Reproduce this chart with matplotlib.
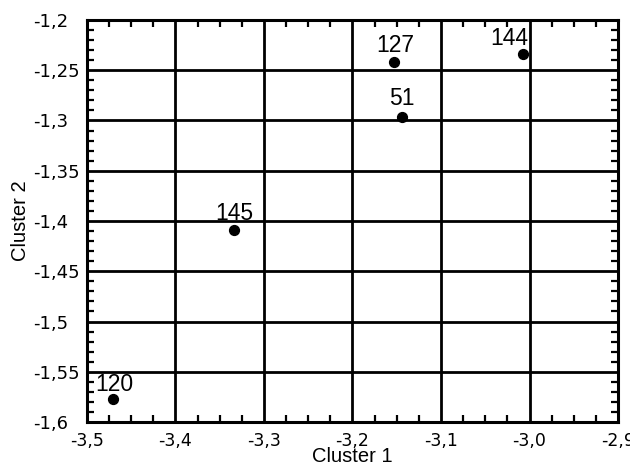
import matplotlib
matplotlib.use("Agg")
import matplotlib.pyplot as plt
from matplotlib.ticker import MultipleLocator, FuncFormatter

plt.rcParams['font.family'] = ['Liberation Sans', 'DejaVu Sans']

labels = ["120", "145", "127", "51", "144"]
cluster1 = [-3.4706, -3.334, -3.153, -3.1435, -3.0073]
cluster2 = [-1.577, -1.409, -1.242, -1.2965, -1.2338]
offsets = [(0.7, 5.8), (0, 7), (0.7, 7.2), (-0.7, 8.6), (-9.7, 6.5)]

fig = plt.figure(figsize=(6.3, 4.66), dpi=100)
ax = fig.add_axes([0.138, 0.0944, 0.843, 0.8627])

ax.scatter(cluster1, cluster2, s=50, color="black", zorder=3)
for lab, x, y, off in zip(labels, cluster1, cluster2, offsets):
    ax.annotate(lab, (x, y), xytext=off, textcoords="offset points",
                ha="center", va="baseline", fontsize=16.5)

ax.set_xlim(-3.5, -2.9)
ax.set_ylim(-1.6, -1.2)
ax.xaxis.set_major_locator(MultipleLocator(0.1))
ax.xaxis.set_minor_locator(MultipleLocator(0.025))
ax.yaxis.set_major_locator(MultipleLocator(0.05))
ax.yaxis.set_minor_locator(MultipleLocator(0.01))

ax.xaxis.set_major_formatter(FuncFormatter(lambda v, p: f"{v:.1f}".replace(".", ",")))
ax.yaxis.set_major_formatter(FuncFormatter(
    lambda v, p: (f"{v:.2f}".rstrip("0").rstrip(".")).replace(".", ",")))

ax.grid(True, which="major", color="black", linewidth=2.0)
ax.tick_params(which="major", length=0)
ax.tick_params(axis="x", which="major", labelsize=12.5, pad=7)
ax.tick_params(axis="y", which="major", labelsize=13, pad=39)
ax.tick_params(which="minor", direction="in", length=5, width=1.6,
               top=True, right=True, color="black")
for lbl in ax.get_xticklabels() + ax.get_yticklabels():
    lbl.set_fontfamily(["DejaVu Sans"])
for lbl in ax.get_yticklabels():
    lbl.set_ha("left")
for sp in ax.spines.values():
    sp.set_linewidth(2.2)

ax.set_xlabel("Cluster 1", fontsize=14.5)
ax.xaxis.set_label_coords(0.5, -0.063)
ax.set_ylabel("Cluster 2", fontsize=14.5)
ax.yaxis.set_label_coords(-0.107, 0.5)

fig.savefig("out.png", dpi=100)
